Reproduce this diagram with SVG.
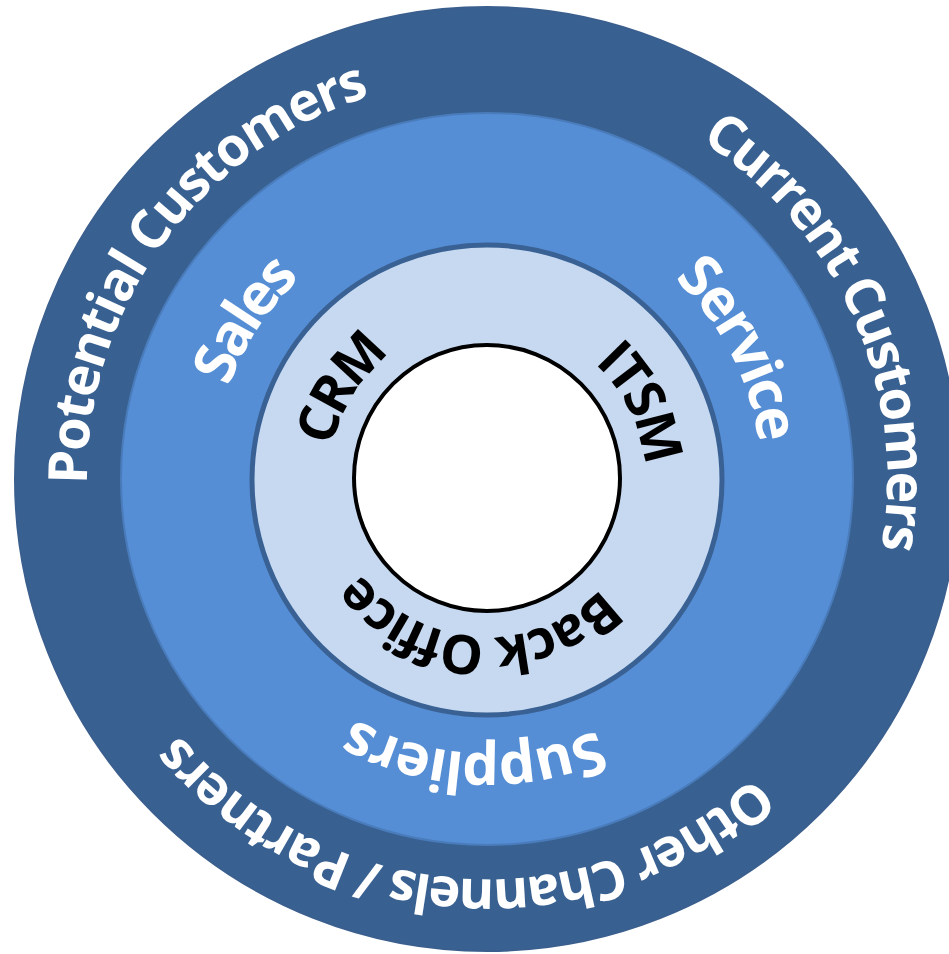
<svg xmlns="http://www.w3.org/2000/svg" xmlns:xlink="http://www.w3.org/1999/xlink" width="949" height="954" viewBox="0 0 949 954">
  <style>
    .lbl { font-family: "Open Sans", "Noto Sans", "DejaVu Sans", sans-serif; font-weight: 700; }
    .outer { font-size: 54px; fill: #ffffff; letter-spacing: -2.5px; }
    .mid { font-size: 58px; fill: #ffffff; letter-spacing: -3px; }
    .inner { font-size: 54px; fill: #000000; letter-spacing: -4px; }
  </style>
  <defs>
    <path id="arc400" d="M -393.9 69.46 A 400 400 0 1 1 393.9 69.46"/>
    <path id="arc274" d="M -269.8 47.58 A 274 274 0 1 1 269.8 47.58"/>
    <path id="arc158" d="M -155.6 27.44 A 158 158 0 1 1 155.6 27.44"/>
  </defs>

  <g id="ring-outer">
    <circle cx="487" cy="479" r="472" fill="#386192" stroke="#3a5f8e" stroke-width="2"/>
  </g>
  <g id="ring-middle">
    <circle cx="487" cy="479" r="366" fill="#558ed5" stroke="#4a7cbb" stroke-width="2"/>
  </g>
  <g id="ring-inner">
    <circle cx="487" cy="480" r="235" fill="#c6d9f1" stroke="#3a6194" stroke-width="5"/>
  </g>
  <g id="core">
    <circle cx="487" cy="478" r="133" fill="#ffffff" stroke="#000000" stroke-width="4"/>
  </g>

  <g id="label-potential-customers" transform="translate(487 479) rotate(-54)">
    <text class="lbl outer" style="letter-spacing:-2px"><textPath href="#arc400" xlink:href="#arc400" startOffset="50%" text-anchor="middle">Potential Customers</textPath></text>
  </g>
  <g id="label-current-customers" transform="translate(487 479) rotate(66)">
    <text class="lbl outer"><textPath href="#arc400" xlink:href="#arc400" startOffset="50%" text-anchor="middle">Current Customers</textPath></text>
  </g>
  <g id="label-other-channels" transform="translate(487 479) rotate(-176)">
    <text class="lbl outer"><textPath href="#arc400" xlink:href="#arc400" startOffset="50%" text-anchor="middle">Other Channels / Partners</textPath></text>
  </g>

  <g id="label-sales" transform="translate(487 479) rotate(-57)">
    <text class="lbl mid" style="letter-spacing:-4px"><textPath href="#arc274" xlink:href="#arc274" startOffset="50%" text-anchor="middle">Sales</textPath></text>
  </g>
  <g id="label-service" transform="translate(487 479) rotate(62.5)">
    <text class="lbl mid"><textPath href="#arc274" xlink:href="#arc274" startOffset="50%" text-anchor="middle">Service</textPath></text>
  </g>
  <g id="label-suppliers" transform="translate(487 479) rotate(-177.5)">
    <text class="lbl mid" style="letter-spacing:-2px"><textPath href="#arc274" xlink:href="#arc274" startOffset="50%" text-anchor="middle">Suppliers</textPath></text>
  </g>

  <g id="label-crm" transform="translate(487 479) rotate(-58.5)">
    <text class="lbl inner"><textPath href="#arc158" xlink:href="#arc158" startOffset="50%" text-anchor="middle">CRM</textPath></text>
  </g>
  <g id="label-itsm" transform="translate(487 479) rotate(63.5)">
    <text class="lbl inner"><textPath href="#arc158" xlink:href="#arc158" startOffset="50%" text-anchor="middle">ITSM</textPath></text>
  </g>
  <g id="label-back-office" transform="translate(487 479) rotate(-177)">
    <text class="lbl inner" style="letter-spacing:-3px"><textPath href="#arc158" xlink:href="#arc158" startOffset="50%" text-anchor="middle">Back Office</textPath></text>
  </g>

  <g id="connectors"/>
</svg>
